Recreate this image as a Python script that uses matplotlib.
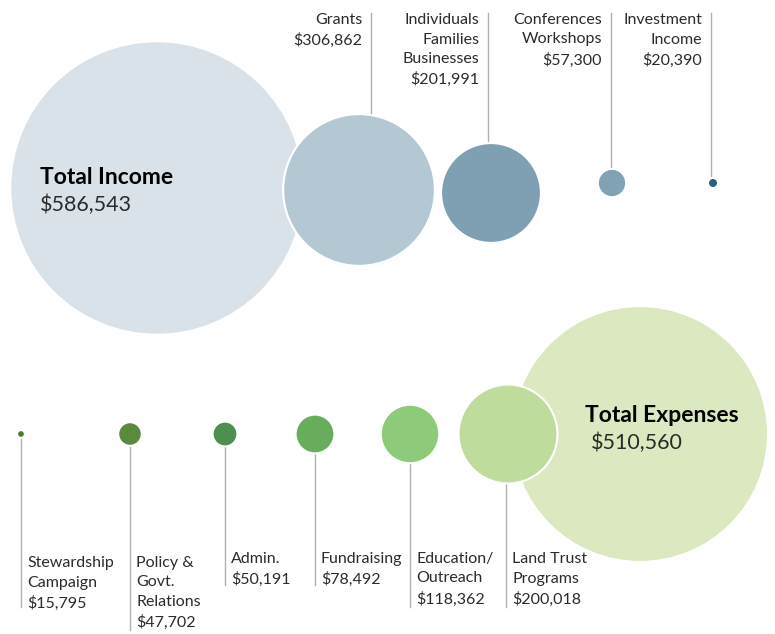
import matplotlib.pyplot as plt
from matplotlib.patches import Circle

plt.rcParams['font.family'] = ['Lato', 'DejaVu Sans']

# income data
income_labels = ["Grants", "Individuals\nFamilies\nBusinesses", "Conferences\nWorkshops", "Investment\nIncome"]
income_values = [306862, 201991, 57300, 20390]
income_total = 586543

# expense data
expense_labels = ["Stewardship\nCampaign", "Policy &\nGovt.\nRelations", "Admin.", "Fundraising",
                  "Education/\nOutreach", "Land Trust\nPrograms"]
expense_values = [15795, 47702, 50191, 78492, 118362, 200018]
expense_total = 510560

# layout (pixels)
scale = 145.0 / income_total          # radius per dollar
inc_x = [359, 491, 612, 713]
inc_y = [190, 193, 183, 183]
inc_line_x = [371, 488, 611, 711]
inc_colors = ["#b4c8d3", "#7fa0b3", "#81a1b4", "#2b5f80"]
exp_x = [21, 130, 225, 315, 410, 508]
exp_y = 434
exp_line_bottom = [607, 630, 585, 585, 607, 607]
exp_text_top = [556, 556, 552, 552, 552, 552]
exp_colors = ["#4f7a35", "#5a8a3e", "#4e8e4f", "#67ad5b", "#8dcb7b", "#c0dc9c"]
line_col = "#b0b0b0"
txt_col = "#2b2b2b"
fs = 11.5

fig = plt.figure(figsize=(7.75, 6.34), dpi=100)
ax = fig.add_axes([0, 0, 1, 1])
ax.set_xlim(0, 775)
ax.set_ylim(634, 0)
ax.set_aspect('equal')
ax.axis('off')

# income
ax.add_patch(Circle((157, 188), income_total * scale, color="#dae2e9", zorder=1))
ax.text(40, 177, "Total Income", fontsize=16.5, fontweight='bold', color="black", va='center')
ax.text(40, 205, "${:,}".format(income_total), fontsize=15.5, color=txt_col, va='center')
for i, v in enumerate(income_values):
    r = v * scale
    ax.add_patch(Circle((inc_x[i], inc_y[i]), r, facecolor=inc_colors[i], edgecolor='white',
                        linewidth=1.5, zorder=3))
    top = inc_y[i] - r * 0.97 if i < 2 else inc_y[i] - r
    ax.plot([inc_line_x[i], inc_line_x[i]], [13, top], color=line_col, lw=1, zorder=2)
    ax.text(inc_line_x[i] - 9, 13, income_labels[i] + "\n${:,}".format(v), fontsize=fs,
            color=txt_col, ha='right', va='top', linespacing=1.5)

# expenses
ax.add_patch(Circle((640, exp_y), expense_total * scale, color="#dce8c0", zorder=1))
ax.text(585, 416, "Total Expenses", fontsize=16.5, fontweight='bold', color="black", va='center')
ax.text(591, 443, "${:,}".format(expense_total), fontsize=15.5, color=txt_col, va='center')
for i, v in enumerate(expense_values):
    r = v * scale
    ax.add_patch(Circle((exp_x[i], exp_y), r, facecolor=exp_colors[i], edgecolor='white',
                        linewidth=1.5, zorder=3))
    lx = exp_x[i] - 2 if i == 5 else exp_x[i]
    ax.plot([lx, lx], [exp_y + r, exp_line_bottom[i]], color=line_col, lw=1, zorder=2)
    ax.text(lx + 6, exp_text_top[i], expense_labels[i] + "\n${:,}".format(v), fontsize=fs,
            color=txt_col, ha='left', va='top', linespacing=1.5)

fig.savefig("out.png", dpi=100)
